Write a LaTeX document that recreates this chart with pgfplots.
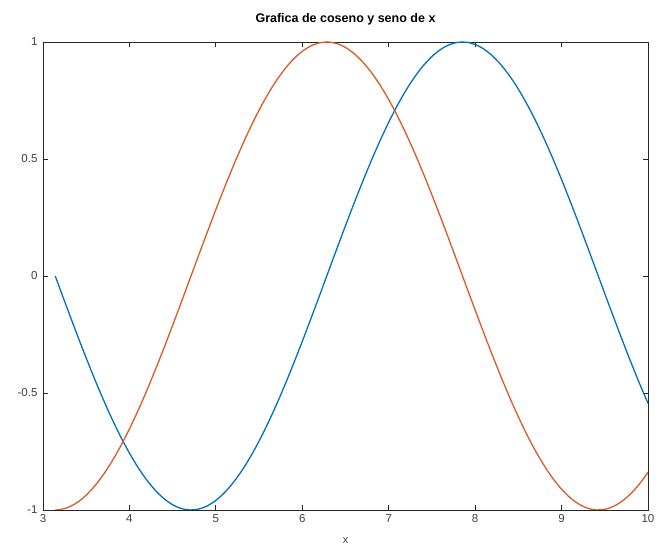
\documentclass[border=0pt]{standalone}
\usepackage{fontspec}
\setmainfont{Liberation Sans}
\usepackage{pgfplots}
\pgfplotsset{compat=1.18}
\definecolor{octblue}{rgb}{0,0.447,0.741}
\definecolor{octorange}{rgb}{0.85,0.36,0.15}
\definecolor{axgray}{rgb}{0.15,0.15,0.15}

\begin{document}
\begin{tikzpicture}[x=1pt,y=1pt]
\useasboundingbox (-43,-35) rectangle (623,510);
\begin{axis}[
  scale only axis,
  width=605pt, height=468pt,
  at={(0,0)}, anchor=south west,
  xmin=3, xmax=10, ymin=-1, ymax=1,
  xtick={3,4,5,6,7,8,9,10},
  ytick={-1,-0.5,0,0.5,1},
  tick align=inside,
  major tick length=5pt,
  axis line style={axgray, line width=0.9pt},
  every tick/.style={axgray, line width=0.8pt},
  tick label style={font=\fontsize{11.5}{13}\selectfont, text=black!75},
  /pgf/number format/assume math mode=true,
  yticklabel style={xshift=-2pt},
  xticklabel style={yshift=-1pt},
  title={\bfseries Grafica de coseno y seno de x},
  title style={font=\fontsize{12.5}{14}\selectfont, yshift=7pt},
  xlabel={x},
  xlabel style={font=\fontsize{11}{13}\selectfont, text=black!75, yshift=-8pt},
]
% seno de x
\addplot[octblue, line width=1.3pt, smooth] coordinates {
(3.14159,0.00000)(3.2,-0.05837)(3.3,-0.15775)(3.4,-0.25554)(3.5,-0.35078)
(3.6,-0.44252)(3.7,-0.52984)(3.8,-0.61186)(3.9,-0.68777)(4.0,-0.75680)
(4.1,-0.81828)(4.2,-0.87158)(4.3,-0.91617)(4.4,-0.95160)(4.5,-0.97753)
(4.6,-0.99369)(4.7,-0.99992)(4.8,-0.99616)(4.9,-0.98245)(5.0,-0.95892)
(5.1,-0.92581)(5.2,-0.88345)(5.3,-0.83227)(5.4,-0.77276)(5.5,-0.70554)
(5.6,-0.63127)(5.7,-0.55069)(5.8,-0.46460)(5.9,-0.37388)(6.0,-0.27942)
(6.1,-0.18216)(6.2,-0.08309)(6.3,0.01681)(6.4,0.11655)(6.5,0.21512)
(6.6,0.31154)(6.7,0.40485)(6.8,0.49411)(6.9,0.57844)(7.0,0.65699)
(7.1,0.72897)(7.2,0.79367)(7.3,0.85043)(7.4,0.89870)(7.5,0.93800)
(7.6,0.96792)(7.7,0.98817)(7.8,0.99854)(7.9,0.99894)(8.0,0.98936)
(8.1,0.96989)(8.2,0.94073)(8.3,0.90217)(8.4,0.85460)(8.5,0.79849)
(8.6,0.73440)(8.7,0.66297)(8.8,0.58492)(8.9,0.50102)(9.0,0.41212)
(9.1,0.31910)(9.2,0.22289)(9.3,0.12445)(9.4,0.02478)(9.5,-0.07515)
(9.6,-0.17433)(9.7,-0.27176)(9.8,-0.36648)(9.9,-0.45754)(10.0,-0.54402)
};
% coseno de x
\addplot[octorange, line width=1.3pt, smooth] coordinates {
(3.14159,-1.00000)(3.2,-0.99829)(3.3,-0.98748)(3.4,-0.96680)(3.5,-0.93646)
(3.6,-0.89676)(3.7,-0.84810)(3.8,-0.79097)(3.9,-0.72593)(4.0,-0.65364)
(4.1,-0.57482)(4.2,-0.49026)(4.3,-0.40080)(4.4,-0.30733)(4.5,-0.21080)
(4.6,-0.11215)(4.7,-0.01239)(4.8,0.08750)(4.9,0.18651)(5.0,0.28366)
(5.1,0.37798)(5.2,0.46852)(5.3,0.55437)(5.4,0.63469)(5.5,0.70867)
(5.6,0.77557)(5.7,0.83471)(5.8,0.88552)(5.9,0.92748)(6.0,0.96017)
(6.1,0.98327)(6.2,0.99654)(6.3,0.99986)(6.4,0.99318)(6.5,0.97659)
(6.6,0.95023)(6.7,0.91439)(6.8,0.86940)(6.9,0.81570)(7.0,0.75390)
(7.1,0.68455)(7.2,0.60835)(7.3,0.52608)(7.4,0.43855)(7.5,0.34664)
(7.6,0.25126)(7.7,0.15337)(7.8,0.05396)(7.9,-0.04600)(8.0,-0.14550)
(8.1,-0.24354)(8.2,-0.33915)(8.3,-0.43137)(8.4,-0.51929)(8.5,-0.60201)
(8.6,-0.67872)(8.7,-0.74865)(8.8,-0.81109)(8.9,-0.86543)(9.0,-0.91113)
(9.1,-0.94772)(9.2,-0.97484)(9.3,-0.99223)(9.4,-0.99969)(9.5,-0.99717)
(9.6,-0.98469)(9.7,-0.96236)(9.8,-0.93043)(9.9,-0.88919)(10.0,-0.83907)
};
\end{axis}
\end{tikzpicture}
\end{document}
